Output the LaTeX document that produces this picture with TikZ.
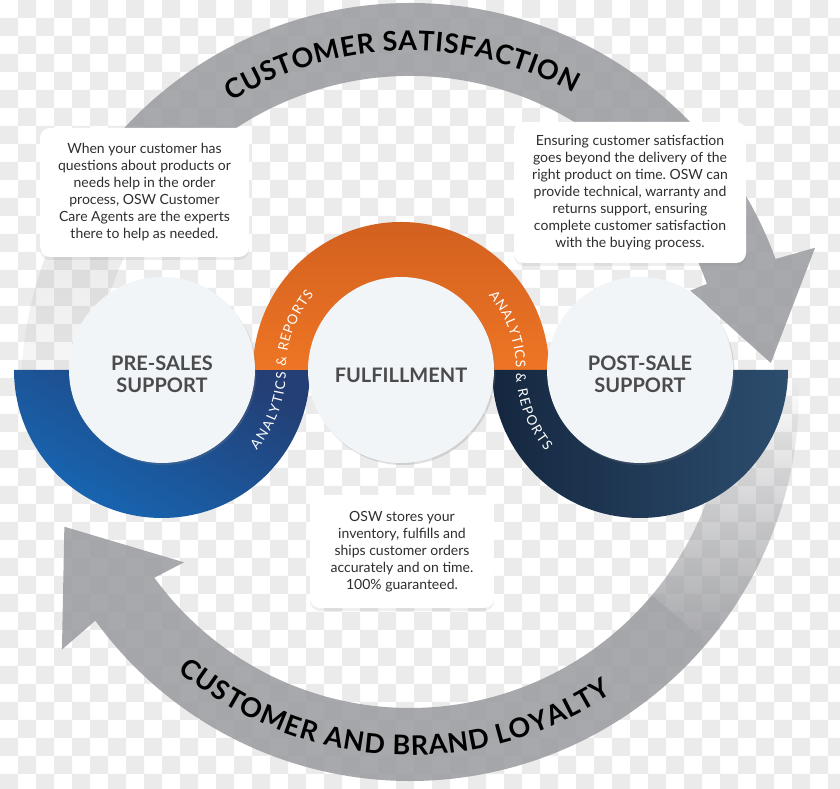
\documentclass[tikz,border=0pt]{standalone}
\usepackage{fontspec}
\setmainfont{Lato}
\frenchspacing
\usetikzlibrary{shadows,fadings,decorations.text}
\definecolor{ink}{HTML}{2E2E2E}
\definecolor{labelgray}{HTML}{4A4B4D}
\definecolor{band}{HTML}{999A9E}
\definecolor{checker}{HTML}{EBEBEB}
\definecolor{disc}{HTML}{F2F5F8}
\definecolor{bluelight}{HTML}{1767B5}
\definecolor{bluedark}{HTML}{233F75}
\definecolor{orangelight}{HTML}{EE7524}
\definecolor{orangedark}{HTML}{D2601F}
\definecolor{navydark}{HTML}{15273F}
\definecolor{navylight}{HTML}{2C4D6E}
\newcommand\bandfont{\fontsize{27}{27}\selectfont\bfseries}
\newcommand\ringfont{\fontsize{13.5}{13.5}\selectfont\kern1.2pt}
\tikzset{stagedisc/.style={circle,fill=disc,minimum size=186pt,inner sep=0pt,
 drop shadow={opacity=0.25,shadow xshift=1.5pt,shadow yshift=-2pt}},
 stagelabel/.style={align=center,text=labelgray,font=\fontsize{20}{22}\selectfont\bfseries,inner sep=0pt},
 notebox/.style={fill=white,rounded corners=10pt,align=center,inner sep=0pt,text=ink,
 font=\fontsize{14}{17}\selectfont,drop shadow={opacity=0.12,shadow xshift=0pt,shadow yshift=-3pt}},
 loopband/.style={fill=band,fill opacity=0.85},
 bandtext/.style={decorate,decoration={text along path,text align=center,text={#1}}},
 ringtext/.style={decorate,decoration={text along path,text align=center,text color=white,raise=-4.5pt,
 text={|\ringfont|ANALYTICS {\&} REPORTS}}}}
\begin{document}
\begin{tikzpicture}[x=1pt,y=1pt]
\useasboundingbox (0,0) rectangle (840,789);
\fill[white] (0,0) rectangle (840,789);
\fill[checker] \foreach \j in {0,2,...,42} {\foreach \i in {1,3,...,45} {(18*\i,789-18*\j) rectangle ++(18,-18)}};
\fill[checker] \foreach \j in {1,3,...,43} {\foreach \i in {0,2,...,46} {(18*\i,789-18*\j) rectangle ++(18,-18)}};
\coordinate (pre) at (162,419);\coordinate (ful) at (401,419);\coordinate (post) at (640,419);
\coordinate (hub) at (410,397);
\begin{scope}[shift={(hub)}]
\fill[loopband] (140:389) arc[start angle=140,end angle=20,radius=389] -- (19.6:430) -- (4.6:362) -- (19.9:298) -- (20:316)
 arc[start angle=20,end angle=140,radius=316] -- cycle;
\fill[loopband,fill opacity=0.3,path fading=south] (188:389) arc[start angle=188,end angle=140,radius=389] -- (140:316)
 arc[start angle=140,end angle=188,radius=316] -- cycle;
\fill[loopband] (-40:389) arc[start angle=-40,end angle=-144,radius=389] -- (-143.5:433) -- (-158.7:371) -- (-143:283) -- (-144:316)
 arc[start angle=-144,end angle=-40,radius=316] -- cycle;
\fill[loopband,path fading=north] (2:389) arc[start angle=2,end angle=-40,radius=389] -- (-40:316)
 arc[start angle=-40,end angle=2,radius=316] -- cycle;
\path[bandtext={|\bandfont\kern0.6pt|CUSTOMER SATISFACTION}] (161.5:341) arc[start angle=161.5,end angle=21.5,radius=341];
\path[bandtext={|\bandfont\kern0.9pt|CUSTOMER AND BRAND LOYALTY}] (197:363) arc[start angle=197,end angle=337,radius=363];
\end{scope}
\path[top color=bluedark,bottom color=bluelight,shading angle=-30] ([shift={(pre)}]180:148) arc[start angle=180,end angle=360,radius=148] -- cycle;
\path[top color=orangedark,bottom color=orangelight] ([shift={(ful)}]0:148) arc[start angle=0,end angle=180,radius=148] -- cycle;
\path[left color=navydark,right color=navylight] ([shift={(post)}]180:148) arc[start angle=180,end angle=360,radius=148] -- cycle;
\node[stagedisc] (presales) at (pre) {};
\node[stagedisc] (fulfil) at (ful) {};
\node[stagedisc] (postsale) at (post) {};
\node[stagelabel] (presaleslabel) at ([yshift=-4pt]presales.center) {PRE-SALES\\SUPPORT};
\node[stagelabel] (fulfillabel) at ([yshift=-5pt]fulfil.center) {FULFILLMENT};
\node[stagelabel] (postsalelabel) at ([yshift=-4pt]postsale.center) {POST-SALE\\SUPPORT};
\path[ringtext] ([shift={(pre)}]-60:119.5) arc[start angle=-60,end angle=0,radius=119.5] arc[start angle=180,end angle=120,radius=119.5];
\path[ringtext] ([shift={(ful)}]60:119.5) arc[start angle=60,end angle=0,radius=119.5] arc[start angle=180,end angle=240,radius=119.5];
\node[notebox,minimum width=209pt,minimum height=129pt] (presalesnote) at (144.5,596.5) {When your customer has\\questions about products or\\needs help in the order\\process, OSW Customer\\Care Agents are the experts\\there to help as needed.};
\node[notebox,minimum width=232pt,minimum height=141pt] (postsalenote) at (630,596.5) {Ensuring customer satisfaction\\goes beyond the delivery of the\\right product on time. OSW can\\provide technical, warranty and\\returns support, ensuring\\complete customer satisfaction\\with the buying process.};
\node[notebox,minimum width=184pt,minimum height=113pt] (fulfilnote) at (402,237.5) {OSW stores your\\inventory, fulfills and\\ships customer orders\\accurately and on time.\\100\% guaranteed.};
\end{tikzpicture}
\end{document}
